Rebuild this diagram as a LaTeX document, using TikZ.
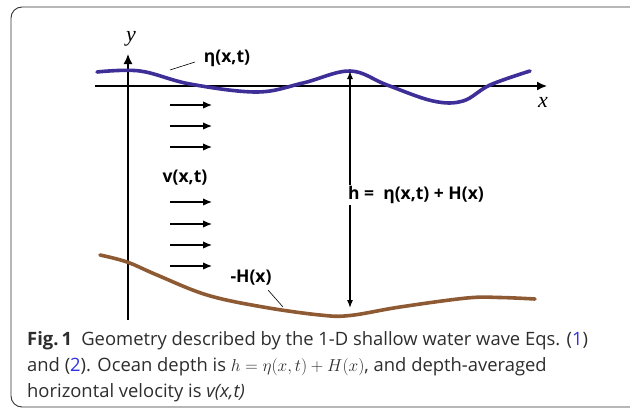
\documentclass[tikz,border=0pt]{standalone}
\usepackage{fontspec}
\usetikzlibrary{arrows.meta,positioning}
\newfontfamily\capfont{Open Sans}
\newfontfamily\lblfont{Open Sans}
\newfontfamily\axfont{Liberation Serif}
\definecolor{etacol}{RGB}{62,46,152}
\definecolor{bedcol}{RGB}{142,90,52}
\definecolor{eqblue}{RGB}{50,50,230}
\definecolor{capgray}{RGB}{45,45,45}

\begin{document}
\begin{tikzpicture}[x=1pt,y=-1pt,
  frame/.style={draw=black!80,line width=0.9pt,rounded corners=11pt},
  axis line/.style={line width=1.5pt,-{Latex[length=10pt,width=9pt]}},
  vel arrow/.style={line width=1.3pt,-{Latex[length=9pt,width=7.5pt]}},
  h arrow/.style={line width=1.3pt,{Latex[length=8pt,width=6pt]}-{Latex[length=8pt,width=6pt]}},
  leader/.style={line width=0.6pt},
  surface/.style={draw=etacol,line width=3.6pt,line cap=round},
  bed/.style={draw=bedcol,line width=3.6pt,line cap=round},
  lbl/.style={font=\lblfont\bfseries\fontsize{17.5}{20}\selectfont,inner sep=1pt},
  axlbl/.style={font=\axfont\itshape\fontsize{22}{24}\selectfont,inner sep=0pt},
  capline/.style={anchor=base west,inner sep=0pt,text=capgray,font=\capfont\fontsize{18.4}{22}\selectfont}]
\clip (0,0) rectangle (630,410);
\draw[frame] (11,7) rectangle (650,407);

% axes
\coordinate (xa) at (95,86);
\coordinate (xb) at (547,86);
\coordinate (ya) at (128,320);
\coordinate (yb) at (128,54);
\draw[axis line] (xa) -- (xb);
\draw[axis line] (ya) -- (yb);
\node[axlbl] (xlbl) at (543,102) {x};
\node[axlbl] (ylbl) at (131,39) {y};

% free surface and sea bed
\draw[surface] plot[smooth,tension=0.6] coordinates {(97,72) (140,71) (190,84) (257,92) (303,83) (350,71) (387,85) (433,101) (463,101) (490,85) (530,71)};
\draw[bed] plot[smooth,tension=0.6] coordinates {(100,255) (127,262) (157,275) (207,295) (263,307) (320,315) (350,315.5) (400,307) (467,298) (500,297.5) (535,299)};

% velocity arrows
\foreach \y [count=\i] in {105,126,147,202,224,245,266} {
  \coordinate (va\i) at (170,\y);
  \coordinate (vb\i) at (212,\y);
  \draw[vel arrow] (va\i) -- (vb\i);
}

% depth
\coordinate (htop) at (350,71);
\coordinate (hbot) at (350,308);
\draw[h arrow] (hbot) -- (htop);

\node[lbl] (etalbl) at (227,58) {η(x,t)};
\node[lbl] (vlbl) at (185,178) {v(x,t)};
\node[lbl] (Hlbl) at (251,278) {-H(x)};
\node[lbl,fill=white] (hlbl) at (416,195) {h =\ \ η(x,t) + H(x)};

\coordinate (etaA) at (170,70);
\coordinate (etaB) at (195,62);
\draw[leader] (etaA) -- (etaB);
\coordinate (HA) at (268,290);
\coordinate (HB) at (283,307);
\draw[leader] (HA) -- (HB);

% caption
\node[capline] (cap1) at (27,345) {\textbf{Fig.\,1}\enspace Geometry described by the 1-D shallow water wave Eqs. (\textcolor{eqblue}{1})};
\node[capline] (cap2) at (27,371) {and (\textcolor{eqblue}{2}). Ocean depth is $h=\eta(x,t)+H(x)$, and depth-averaged};
\node[capline] (cap3) at (27,397) {horizontal velocity is \textit{v(x,t)}};
\end{tikzpicture}
\end{document}
